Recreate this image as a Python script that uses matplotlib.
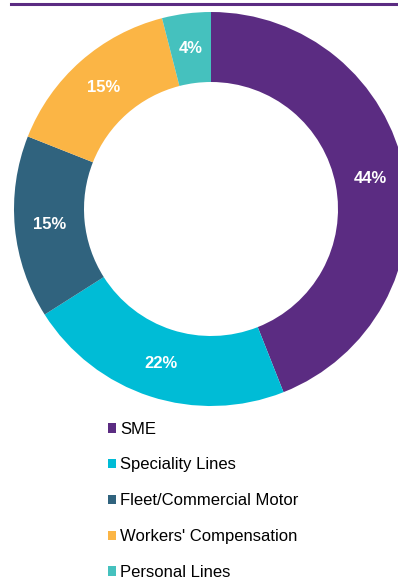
import matplotlib.pyplot as plt
from matplotlib.patches import Patch
from matplotlib.lines import Line2D
import numpy as np

# portfolio mix by product line
categories = ["SME", "Speciality Lines", "Fleet/Commercial Motor",
              "Workers' Compensation", "Personal Lines"]
shares = [44, 22, 15, 15, 4]
colors = ["#5B2C82", "#00BCD6", "#30637E", "#FBB545", "#45C1BE"]

W, H = 398, 579
fig = plt.figure(figsize=(W / 100, H / 100), dpi=100)
plt.rcParams['font.family'] = ['Liberation Sans', 'DejaVu Sans']

# rule across the top
fig.add_artist(Line2D([11 / W, 1.0], [1 - 3.5 / H, 1 - 3.5 / H],
                      color="#5B2C82", linewidth=2.2))

# donut, centre and radius in pixels
cx, cy, r = 211, 209, 197
ax = fig.add_axes([(cx - r) / W, 1 - (cy + r) / H, 2 * r / W, 2 * r / H])
width = 70 / r
wedges, _ = ax.pie(shares, colors=colors, startangle=90, counterclock=False,
                   radius=1, wedgeprops=dict(width=width, linewidth=0))
ax.set_xlim(-1, 1)
ax.set_ylim(-1, 1)
ax.set_aspect('equal')
ax.axis('off')

mid_r = 1 - width / 2
start = 90.0
for v in shares:
    ang = np.deg2rad(start - v * 3.6 / 2)
    ax.text(mid_r * np.cos(ang), mid_r * np.sin(ang), f"{v}%",
            ha='center', va='center', color='white', fontsize=12,
            fontweight='bold')
    start -= v * 3.6

handles = [Patch(facecolor=c, edgecolor='none') for c in colors]
fig.legend(handles, categories, loc='upper left',
           bbox_to_anchor=(101 / W, 1 - 415 / H), frameon=False,
           fontsize=12, handlelength=0.5, handleheight=0.5,
           handletextpad=0.25, labelspacing=1.25, borderaxespad=0)

fig.savefig("out.png", dpi=100)
